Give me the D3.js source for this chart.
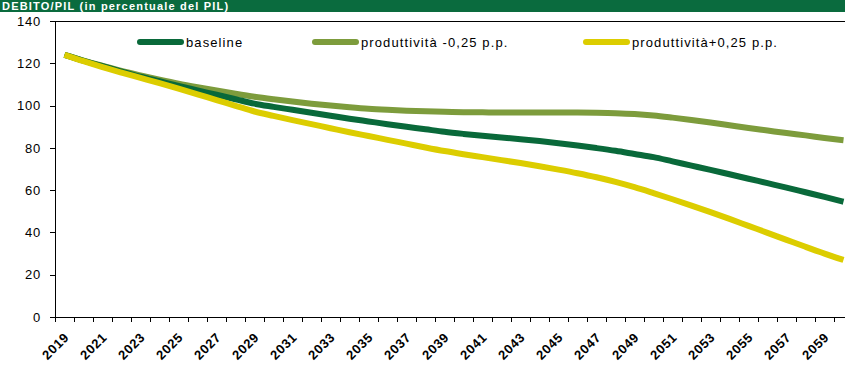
<!DOCTYPE html>
<html>
<head>
<meta charset="utf-8">
<script src="https://cdn.jsdelivr.net/npm/d3@7"></script>
<style>
  html, body { margin: 0; padding: 0; background: #fff; }
  svg { display: block; font-family: "Liberation Sans", Arial, sans-serif; }
</style>
</head>
<body>
<svg id="chart" width="845" height="368"></svg>
<script>
// Years on the category axis
const years = d3.range(2019, 2061);

// Debt/GDP projections (% of GDP)
const baseline = [
  124.0, 121.2, 118.6, 116.1, 113.7, 111.5, 109.3, 107.2, 105.1, 103.0,
  100.9, 99.4, 98.0, 96.6, 95.2, 93.8, 92.5, 91.2, 90.0, 88.8,
  87.6, 86.6, 85.7, 84.9, 84.1, 83.2, 82.2, 81.1, 79.9, 78.6,
  77.1, 75.6, 73.6, 71.6, 69.6, 67.5, 65.4, 63.3, 61.2, 59.0,
  56.8, 54.5
];
const prodMinus = [
  124.0, 121.3, 118.8, 116.4, 114.3, 112.3, 110.4, 108.7, 107.1, 105.6,
  104.2, 103.0, 101.9, 100.9, 100.0, 99.2, 98.5, 98.0, 97.6, 97.3,
  97.1, 96.9, 96.8, 96.7, 96.7, 96.7, 96.7, 96.7, 96.6, 96.4,
  96.0, 95.3, 94.3, 93.2, 92.0, 90.7, 89.4, 88.2, 87.0, 85.9,
  84.7, 83.6
];
const prodPlus = [
  124.0, 121.0, 118.2, 115.6, 113.1, 110.6, 108.0, 105.3, 102.6, 99.9,
  97.2, 95.1, 93.1, 91.2, 89.3, 87.4, 85.6, 83.8, 82.0, 80.2,
  78.5, 77.0, 75.6, 74.2, 72.8, 71.3, 69.7, 68.0, 66.1, 63.9,
  61.4, 58.6, 55.7, 52.7, 49.6, 46.4, 43.1, 39.8, 36.5, 33.2,
  30.0, 27.0
];
const yTicks = [0, 20, 40, 60, 80, 100, 120, 140];
const seriesNames = ["baseline", "produttività -0,25 p.p.", "produttività+0,25 p.p."];
const titleText = "DEBITO/PIL (in percentuale del PIL)";

const colors = ["#09693a", "#7d9c3c", "#dccd00"];
const series = [baseline, prodMinus, prodPlus];

const svg = d3.select("#chart");

// Header band
svg.append("rect").attr("x", 0).attr("y", 0).attr("width", 845).attr("height", 12)
  .attr("fill", "#0a6b3e");
svg.append("text").attr("x", 2).attr("y", 10)
  .attr("fill", "#fff").attr("font-size", 11).attr("font-weight", "bold")
  .attr("letter-spacing", 1.2)
  .text(titleText);

const margin = { left: 55, top: 21 };
const plotW = 798, plotH = 296;

const x = d3.scaleBand().domain(years).range([margin.left, margin.left + plotW]);
const y = d3.scaleLinear().domain([0, 140]).range([margin.top + plotH, margin.top]);

const g = svg.append("g");

// Top frame line
g.append("line")
  .attr("x1", margin.left).attr("x2", margin.left + plotW)
  .attr("y1", y(140)).attr("y2", y(140))
  .attr("stroke", "#000").attr("stroke-width", 1).attr("shape-rendering", "crispEdges");

// Y axis
const yAxis = g.append("g")
  .attr("transform", `translate(${margin.left},0)`)
  .call(d3.axisLeft(y).tickValues(yTicks).tickSize(5).tickPadding(9));
yAxis.selectAll("text").attr("font-size", 13).attr("fill", "#000")
  .attr("letter-spacing", 0.8)
  .attr("font-family", "'Liberation Sans', Arial, sans-serif");
yAxis.selectAll("line, path").attr("stroke", "#000").attr("shape-rendering", "crispEdges");

// X axis: ticks between categories, labels every second year
const xAxisG = g.append("g").attr("transform", `translate(0,${y(0)})`);
xAxisG.append("line")
  .attr("x1", margin.left).attr("x2", margin.left + plotW)
  .attr("y1", 0).attr("y2", 0)
  .attr("stroke", "#000").attr("shape-rendering", "crispEdges");
xAxisG.selectAll("line.tick")
  .data(years.concat([2061]))
  .join("line").attr("class", "tick")
  .attr("x1", d => d <= 2060 ? x(d) : x(2060) + x.bandwidth())
  .attr("x2", d => d <= 2060 ? x(d) : x(2060) + x.bandwidth())
  .attr("y1", 0).attr("y2", 5)
  .attr("stroke", "#000").attr("shape-rendering", "crispEdges");
xAxisG.selectAll("text")
  .data(years.filter((d, i) => i % 2 === 0))
  .join("text")
  .attr("transform", d => `translate(${x(d) + x.bandwidth() / 2 + 2},${18}) rotate(-45)`)
  .attr("text-anchor", "end")
  .attr("font-size", 13).attr("font-weight", "bold")
  .attr("letter-spacing", 0.6)
  .attr("dy", "0.35em")
  .text(d => d);

// Lines
const line = d3.line()
  .x((d, i) => x(years[i]) + x.bandwidth() / 2)
  .y(d => y(d))
  .curve(d3.curveMonotoneX);

// draw order: olive, green, yellow on top
[1, 0, 2].forEach(k => {
  g.append("path")
    .datum(series[k])
    .attr("fill", "none")
    .attr("stroke", colors[k])
    .attr("stroke-width", 6)
    .attr("stroke-linejoin", "round")
    .attr("d", line);
});

// Legend
const legendPos = [137, 312, 583];
const legend = g.append("g").attr("transform", "translate(0,42)");
seriesNames.forEach((name, k) => {
  legend.append("line")
    .attr("x1", legendPos[k] + 3).attr("x2", legendPos[k] + 44)
    .attr("y1", 0).attr("y2", 0)
    .attr("stroke", colors[k]).attr("stroke-width", 6).attr("stroke-linecap", "round");
  legend.append("text")
    .attr("x", legendPos[k] + 49).attr("y", 0).attr("dy", "0.35em")
    .attr("font-size", 13)
    .attr("letter-spacing", 1.1)
    .text(name);
});
</script>
</body>
</html>
